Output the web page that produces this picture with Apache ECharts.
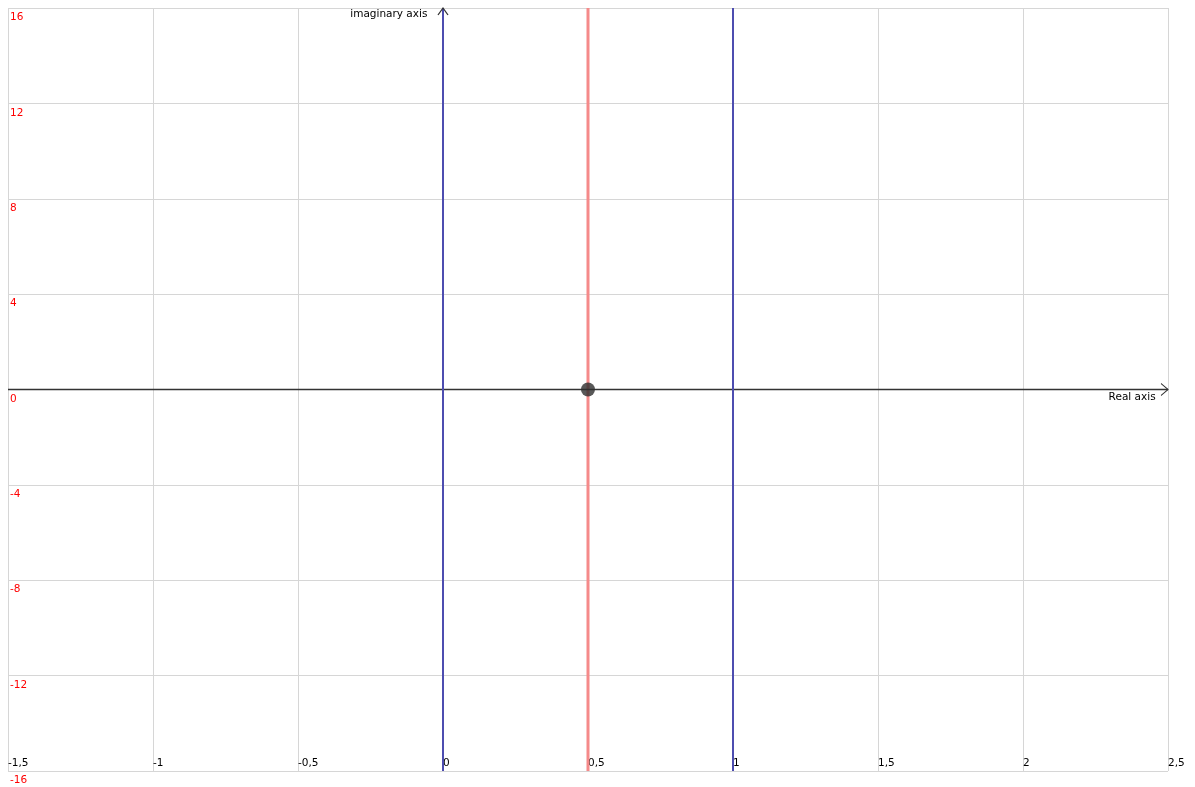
<!DOCTYPE html>
<html>
<head>
<meta charset="utf-8">
<script src="https://cdn.jsdelivr.net/npm/echarts@6/dist/echarts.min.js"></script>
<style>html,body{margin:0;padding:0;background:#fff;}#c{width:1195px;height:787px;}</style>
</head>
<body>
<div id="c"></div>
<script>
// Axis ranges / ticks
const xRange = [-1.5, 2.5];
const xStep = 0.5;
const yRange = [-16, 16];
const yStep = 4;
// Real axis (horizontal line through 0)
const realAxisPts = [[-1.5, 0], [2.5, 0]];
// Imaginary axis (vertical line at Re=0)
const imagAxisPts = [[0, -16], [0, 16]];
// Boundary line Re=1
const lineRe1 = [[1, -16], [1, 16]];
// Critical line Re=0.5
const lineRe05 = [[0.5, -16], [0.5, 16]];
// Point
const points = [[0.5, 0]];
const realAxisName = 'Real axis';
const imagAxisName = 'imaginary axis';

const FONT = 'DejaVu Sans';
const chart = echarts.init(document.getElementById('c'));
const fmt = v => String(v).replace('.', ',');

chart.setOption({
  animation: false,
  backgroundColor: '#fff',
  grid: {left: 8, top: 8, right: 27, bottom: 16, containLabel: false},
  xAxis: {
    type: 'value', min: xRange[0], max: xRange[1], interval: xStep,
    axisLine: {show: false}, axisTick: {show: false},
    splitLine: {show: true, lineStyle: {color: '#d6d6d6', width: 1}},
    axisLabel: {inside: true, align: 'left', verticalAlign: 'bottom', margin: 2,
      color: '#000', fontSize: 10.5, fontFamily: FONT, showMinLabel: true, showMaxLabel: true,
      formatter: fmt}
  },
  yAxis: {
    type: 'value', min: yRange[0], max: yRange[1], interval: yStep,
    axisLine: {show: false}, axisTick: {show: false},
    splitLine: {show: true, lineStyle: {color: '#d6d6d6', width: 1}},
    axisLabel: {inside: true, align: 'left', verticalAlign: 'top', margin: 2,
      padding: [4, 0, 0, 0],
      color: '#ff0000', fontSize: 10.5, fontFamily: FONT, showMinLabel: true, showMaxLabel: true,
      formatter: fmt}
  },
  series: [
    {
      type: 'line', silent: true, showAllSymbol: true, z: 3,
      lineStyle: {color: '#333', width: 1.5},
      data: [
        {value: realAxisPts[0], symbol: 'none'},
        {value: realAxisPts[1], symbol: 'path://M0,0 L8,5 L0,10', symbolSize: [7, 12], symbolOffset: [-3.5, 0],
          symbolKeepAspect: false,
          itemStyle: {color: 'transparent', borderColor: '#333', borderWidth: 1},
          label: {show: true, position: 'left', distance: 5, offset: [0, 8], formatter: realAxisName,
            color: '#000', fontSize: 10.5, fontFamily: FONT}}
      ]
    },
    {
      type: 'line', silent: true, showAllSymbol: true, z: 4,
      lineStyle: {color: '#4d4db0', width: 2},
      data: [
        {value: imagAxisPts[0], symbol: 'none'},
        {value: imagAxisPts[1], symbol: 'path://M0,8 L5,0 L10,8', symbolSize: [10, 7], symbolOffset: [0, 3.5],
          symbolKeepAspect: false,
          itemStyle: {color: 'transparent', borderColor: '#333', borderWidth: 1},
          label: {show: true, position: 'left', distance: 10, offset: [0, 3], formatter: imagAxisName,
            color: '#000', fontSize: 10.5, fontFamily: FONT}}
      ]
    },
    {
      type: 'line', silent: true, symbol: 'none', z: 4,
      lineStyle: {color: '#4d4db0', width: 2},
      data: lineRe1
    },
    {
      type: 'line', silent: true, symbol: 'none', z: 2,
      lineStyle: {color: '#f58a8a', width: 3},
      data: lineRe05
    },
    {
      type: 'scatter', silent: true, z: 6, symbol: 'circle', symbolSize: 14,
      itemStyle: {color: '#2e2e2e'},
      data: points
    }
  ]
});
</script>
</body>
</html>
